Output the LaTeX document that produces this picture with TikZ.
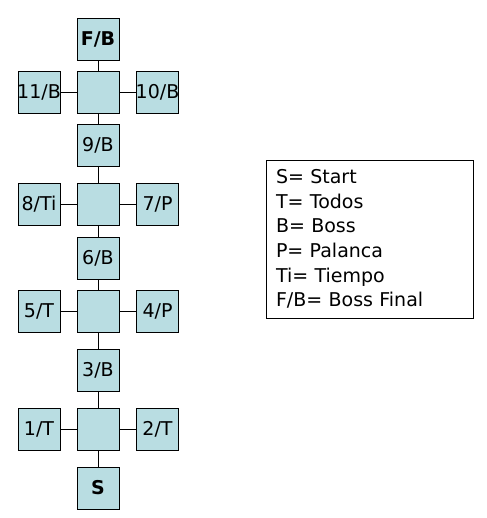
\documentclass[tikz,border=0pt]{standalone}
\usepackage{fontspec}
\setmainfont{DejaVu Sans}
\usetikzlibrary{positioning}
\definecolor{sala}{RGB}{185,221,226}
% text wider than the room is centered and runs over its edges
\newcommand{\wide}[1]{\makebox[0pt]{#1}}

\begin{document}
\begin{tikzpicture}
		[x=1pt,y=-1pt,
		room/.style={draw,fill=sala,minimum size=42pt,inner sep=0pt,font=\fontsize{19}{19}\selectfont},
		legend/.style={draw,fill=white,minimum height=158pt,text width=187pt,inner xsep=10pt,inner ysep=0pt,align=left,font=\fontsize{19}{24.6}\selectfont}]
		\useasboundingbox (0,0) rectangle (486,518);

		% main column
		\node[room] (fb) at (98,39) {\textbf{F/B}};
		\node[room] (c1) at (98,92.5) {};
		\node[room] (9) at (98,145.5) {9/B};
		\node[room] (c2) at (98,204.5) {};
		\node[room] (6) at (98,258) {6/B};
		\node[room] (c3) at (98,311.5) {};
		\node[room] (3) at (98,370) {3/B};
		\node[room] (c4) at (98,429) {};
		\node[room] (s) at (98,488) {\textbf{S}};

		% side rooms
		\node[room] (11) at (39,92.5) {\wide{11/B}};
		\node[room] (10) at (157.5,92.5) {\wide{10/B}};
		\node[room] (8) at (39,204.5) {8/Ti};
		\node[room] (7) at (157.5,204.5) {7/P};
		\node[room] (5) at (39,311.5) {5/T};
		\node[room] (4) at (157.5,311.5) {4/P};
		\node[room] (1) at (39,429) {1/T};
		\node[room] (2) at (157.5,429) {2/T};

		\draw (fb) -- (c1) -- (9) -- (c2) -- (6) -- (c3) -- (3) -- (c4) -- (s);
		\draw (11) -- (c1) -- (10);
		\draw (8) -- (c2) -- (7);
		\draw (5) -- (c3) -- (4);
		\draw (1) -- (c4) -- (2);

		\node[legend] (key) at (369.5,239) {S= Start\\T= Todos\\B= Boss\\P= Palanca\\Ti= Tiempo\\F/B= Boss Final};
\end{tikzpicture}
\end{document}
